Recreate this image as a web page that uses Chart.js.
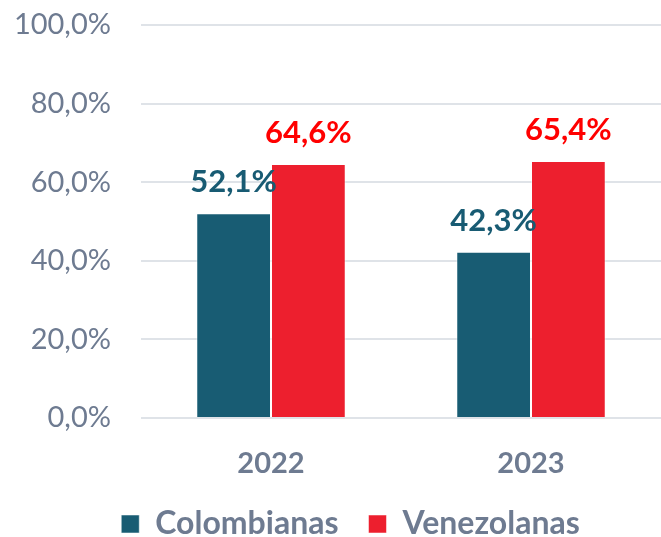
<!DOCTYPE html>
<html lang="es">
<head>
    <meta charset="UTF-8">
    <title>Colombianas vs Venezolanas</title>
    <script src="https://cdn.jsdelivr.net/npm/chart.js"></script>
    <style>
        body { margin: 0; background: #fff; }
    </style>
</head>
<body>
    <canvas id="chart" width="661" height="537"></canvas>

    <script>
        const years = ["2022", "2023"];
        const colombianas = [52.1, 42.3];
        const venezolanas = [64.6, 65.4];
        const yTicks = [0, 20, 40, 60, 80, 100];

        const FONT = "Lato, 'Liberation Sans', sans-serif";
        const GRAY = "#6e7b91";

        function fmt(v) {
            return v.toFixed(1).replace(".", ",") + "%";
        }

        // draw the value above every bar, in the label colour of its series
        const valueLabels = {
            id: "valueLabels",
            afterDatasetsDraw(chart) {
                let ctx = chart.ctx;
                ctx.save();
                ctx.font = "bold 31px " + FONT;
                ctx.textAlign = "center";
                ctx.textBaseline = "alphabetic";
                chart.data.datasets.forEach((ds, i) => {
                    chart.getDatasetMeta(i).data.forEach((bar, j) => {
                        ctx.fillStyle = ds.labelColor;
                        ctx.fillText(fmt(ds.data[j]), bar.x, bar.y - 21);
                    });
                });
                ctx.restore();
            }
        };

        // the legend sits a bit right of centre in the original
        const shiftLegend = {
            id: "shiftLegend",
            afterLayout(chart) {
                chart.legend.left += 20;
                chart.legend.right += 20;
            }
        };

        new Chart(document.getElementById("chart"), {
            type: "bar",
            data: {
                labels: years,
                datasets: [{
                    label: "Colombianas",
                    data: colombianas,
                    backgroundColor: "#185c73",
                    labelColor: "#185b73",
                    borderColor: "rgba(255,255,255,0.5)",
                    borderWidth: 1,
                    categoryPercentage: 0.575,
                    barPercentage: 1
                }, {
                    label: "Venezolanas",
                    data: venezolanas,
                    backgroundColor: "#ed1f2e",
                    labelColor: "#ff0000",
                    borderColor: "rgba(255,255,255,0.5)",
                    borderWidth: 1,
                    categoryPercentage: 0.575,
                    barPercentage: 1
                }]
            },
            options: {
                responsive: false,
                animation: false,
                layout: { padding: { top: 25, right: 0, bottom: -13, left: 0 } },
                scales: {
                    x: {
                        grid: { display: false },
                        border: { display: false },
                        afterFit(scale) {
                            scale.height = 60;
                        },
                        ticks: {
                            color: GRAY,
                            font: { family: FONT, size: 29, weight: "bold" },
                            padding: 20
                        }
                    },
                    y: {
                        min: 0,
                        max: 100,
                        afterBuildTicks(scale) {
                            scale.ticks = yTicks.map(v => ({ value: v }));
                        },
                        afterFit(scale) {
                            scale.width = 141;
                            scale.paddingTop = 0;
                            scale.paddingBottom = 0;
                        },
                        grid: { color: "#dfe3e8", lineWidth: 2, drawTicks: false },
                        border: { display: false },
                        ticks: {
                            color: GRAY,
                            font: { family: FONT, size: 29, weight: "normal" },
                            padding: 30,
                            callback: v => fmt(v)
                        }
                    }
                },
                plugins: {
                    legend: {
                        position: "bottom",
                        labels: {
                            color: GRAY,
                            font: { family: FONT, size: 32, weight: "bold" },
                            boxWidth: 18,
                            boxHeight: 18,
                            padding: 30,
                            useBorderRadius: false
                        }
                    },
                    tooltip: { enabled: false }
                }
            },
            plugins: [valueLabels, shiftLegend]
        });
    </script>
</body>
</html>
